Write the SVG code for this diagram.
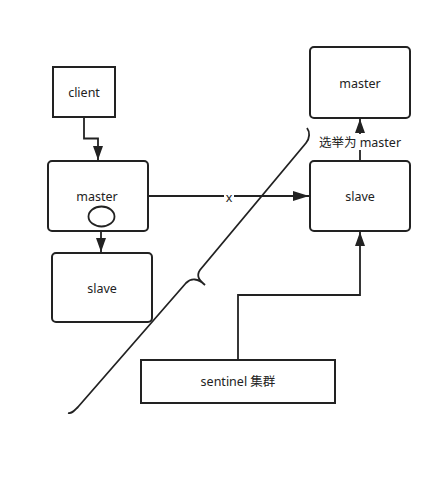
<svg xmlns="http://www.w3.org/2000/svg" width="442" height="494" viewBox="0 0 442 494">
<style>
.box{fill:#fff;stroke:#222;stroke-width:2}
.ln{fill:none;stroke:#222;stroke-width:1.8}
.t{font-family:"Noto Sans","Noto Sans CJK SC",sans-serif;font-size:12.5px;fill:#222;text-anchor:middle;dominant-baseline:central}
</style>
<defs>
<marker id="ahL" viewBox="0 0 10 10" refX="10" refY="5" markerWidth="16" markerHeight="10" markerUnits="userSpaceOnUse" orient="auto" preserveAspectRatio="none">
<path d="M0,0 L10,5 L0,10 Z" fill="#222"/>
</marker>
<marker id="ahM" viewBox="0 0 10 10" refX="10" refY="5" markerWidth="14" markerHeight="10" markerUnits="userSpaceOnUse" orient="auto" preserveAspectRatio="none">
<path d="M0,0 L10,5 L0,10 Z" fill="#222"/>
</marker>
</defs>
<rect width="442" height="494" fill="#fff"/>
<g id="connectors">
<path class="ln" d="M84,118 V138.5 H98 V160" marker-end="url(#ahM)"/>
<path class="ln" d="M101,227 V252" marker-end="url(#ahM)"/>
<path class="ln" d="M148,196 H309" marker-end="url(#ahL)"/>
<path class="ln" d="M360,161 V119" marker-end="url(#ahM)"/>
<path class="ln" d="M238,360 V295 H360 V232" marker-end="url(#ahM)"/>
<rect x="224" y="189" width="10" height="14" fill="#fff"/>
<text class="t" x="229" y="197">x</text>
<rect x="315" y="134" width="90" height="16" fill="#fff"/>
<text class="t" x="360" y="142">选举为 master</text>
<path class="ln" d="M68,413 C72,414 74,411 78,407 L186,283 C191,278 198,278 205,285 C199,280 196,276 200,270 L306,143 C310,138 310,132 307,128"/>
</g>
<g id="client">
<rect class="box" x="53" y="67" width="62" height="50"/>
<text class="t" x="84" y="92">client</text>
</g>
<g id="master-left">
<rect class="box" x="48" y="161" width="100" height="70" rx="4"/>
<text class="t" x="97" y="196">master</text>
<ellipse cx="101.5" cy="216.5" rx="13" ry="10" fill="#fff" stroke="#222" stroke-width="1.8"/>
</g>
<g id="slave-left">
<rect class="box" x="52" y="253" width="100" height="69" rx="4"/>
<text class="t" x="102" y="288">slave</text>
</g>
<g id="master-right">
<rect class="box" x="310" y="47" width="100" height="71" rx="4"/>
<text class="t" x="360" y="83">master</text>
</g>
<g id="slave-right">
<rect class="box" x="310" y="161" width="100" height="70" rx="4"/>
<text class="t" x="360" y="196">slave</text>
</g>
<g id="sentinel">
<rect class="box" x="141" y="360" width="194" height="43"/>
<text class="t" x="238" y="381">sentinel 集群</text>
</g>
</svg>
